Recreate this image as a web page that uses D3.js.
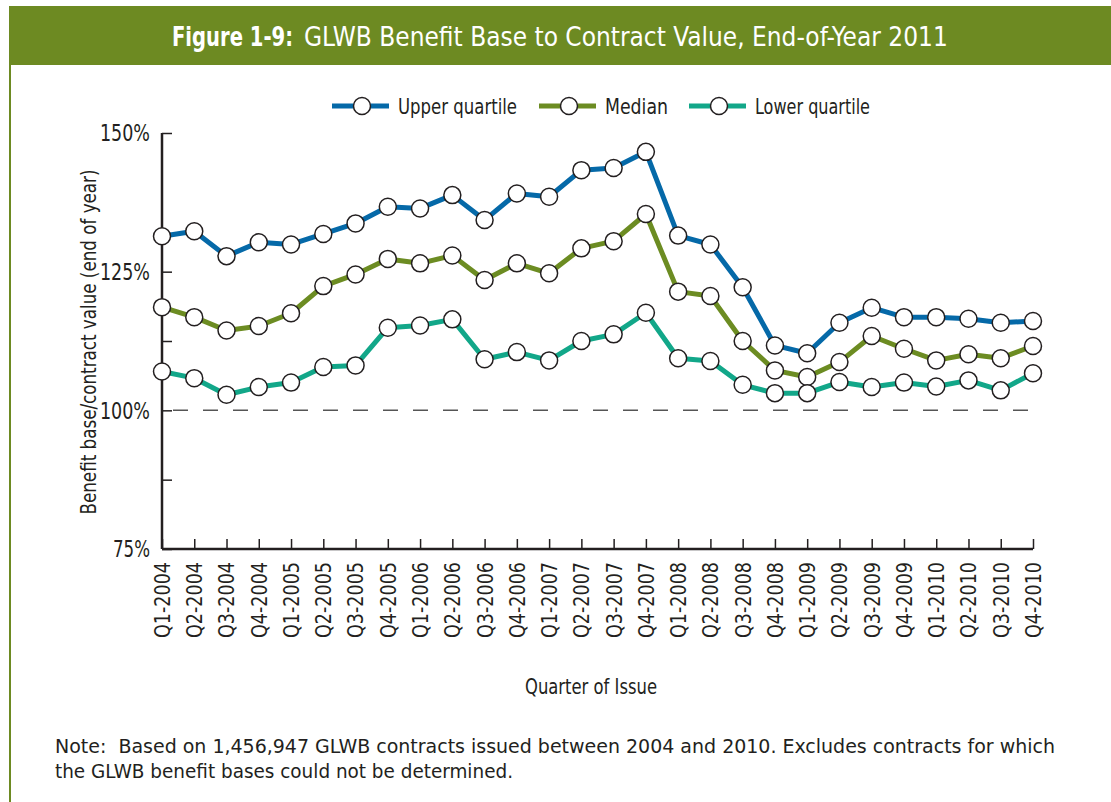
<!DOCTYPE html>
<html>
<head>
<meta charset="utf-8">
<script src="https://cdn.jsdelivr.net/npm/d3@7"></script>
<style>
  body { margin: 0; background: #fff; }
  svg text { font-family: "DejaVu Sans Condensed", "Liberation Sans Narrow", sans-serif; fill: #231f20; }
</style>
</head>
<body>
<div id="chart"></div>
<script>
const quarters = ['Q1-2004','Q2-2004','Q3-2004','Q4-2004','Q1-2005','Q2-2005','Q3-2005','Q4-2005',
  'Q1-2006','Q2-2006','Q3-2006','Q4-2006','Q1-2007','Q2-2007','Q3-2007','Q4-2007',
  'Q1-2008','Q2-2008','Q3-2008','Q4-2008','Q1-2009','Q2-2009','Q3-2009','Q4-2009',
  'Q1-2010','Q2-2010','Q3-2010','Q4-2010'];
const upperQuartile = [131.4,132.3,127.8,130.3,129.9,131.8,133.7,136.7,136.4,138.8,134.3,139.1,138.5,
  143.3,143.7,146.6,131.5,129.9,122.2,111.7,110.3,115.8,118.5,116.8,116.8,116.5,115.8,116.1];
const median = [118.6,116.8,114.4,115.2,117.5,122.4,124.5,127.3,126.5,127.9,123.5,126.5,124.7,
  129.2,130.5,135.4,121.4,120.6,112.5,107.2,106.0,108.7,113.4,111.1,109.0,110.1,109.4,111.6];
const lowerQuartile = [107.0,105.8,102.8,104.2,105.0,107.8,108.1,114.9,115.3,116.4,109.2,110.5,109.0,
  112.5,113.7,117.6,109.4,108.9,104.6,103.1,103.1,105.1,104.2,105.0,104.3,105.4,103.6,106.7];
const seriesNames = ['Upper quartile','Median','Lower quartile'];
const seriesColors = ['#0569a8','#6c8c22','#12a789'];
const yTicks = [75,100,125,150];
const yMinorTicks = [87.5,112.5];

const W = 1111, H = 802;
const svg = d3.select('#chart').append('svg').attr('width', W).attr('height', H);

// squeeze text to the narrow widths of the original condensed face
function fit(sel, len) {
  return sel.attr('textLength', len).attr('lengthAdjust', 'spacingAndGlyphs');
}
// same idea, but by scaling the whole element so its box really shrinks
function squeeze(sel, x0, y0, len) {
  const natural = sel.node().getComputedTextLength();
  sel.attr('transform', `translate(${x0},${y0}) scale(${len / natural},1)`);
}

// frame + title bar
const green = '#6d8a22';
svg.append('line').attr('x1',10).attr('x2',10).attr('y1',60).attr('y2',H)
  .attr('stroke', green).attr('stroke-width', 2);
svg.append('rect').attr('x',9).attr('y',6).attr('width',W-9).attr('height',59).attr('fill',green);
svg.append('text').style('font-size','27px').attr('font-weight','bold')
  .style('fill','#fff').text('Figure 1-9:').call(squeeze, 172, 46, 121);
svg.append('text').style('font-size','27px')
  .style('fill','#fff').text('GLWB Benefit Base to Contract Value, End-of-Year 2011')
  .call(squeeze, 304, 46, 644);

const x = d3.scalePoint().domain(quarters).range([162, 1033]);
const y = d3.scaleLinear().domain([75,150]).range([549, 133]);

// 100% reference line
svg.append('line').attr('x1',173).attr('x2',1033).attr('y1',y(100)).attr('y2',y(100))
  .attr('stroke','#555').attr('stroke-width',1.5).attr('stroke-dasharray','15,15');

// y axis
const yAxis = svg.append('g').attr('transform','translate(162,0)')
  .call(d3.axisRight(y).tickValues(yTicks.concat(yMinorTicks)).tickSize(10).tickFormat(''));
yAxis.select('.domain').attr('stroke','#231f20').attr('stroke-width',2.5).attr('d','M0,133V549');
yAxis.selectAll('.tick line').attr('stroke','#231f20').attr('stroke-width',1.5);
svg.selectAll('.ylab').data(yTicks).join('text').attr('class','ylab')
  .attr('x',150).attr('y',d => y(d)).attr('dy','0.36em').attr('text-anchor','end')
  .style('font-size','23px').attr('textLength', d => d < 100 ? 37 : 50)
  .attr('lengthAdjust','spacingAndGlyphs').text(d => d + '%');

// x axis
const xAxis = svg.append('g').attr('transform','translate(0,549)')
  .call(d3.axisTop(x).tickSize(10).tickFormat(''));
xAxis.select('.domain').attr('stroke','#231f20').attr('stroke-width',2.5).attr('d','M162,0H1033');
xAxis.selectAll('.tick line').attr('stroke','#231f20').attr('stroke-width',1.5);
svg.selectAll('.xlab').data(quarters).join('text').attr('class','xlab')
  .attr('transform', d => `translate(${x(d)},562) rotate(-90)`)
  .attr('dy','0.36em').attr('text-anchor','end').style('font-size','22px')
  .call(fit, 76).text(d => d);

// axis titles
svg.append('text').attr('transform','translate(88,342) rotate(-90)').attr('text-anchor','middle')
  .attr('dy','0.36em').style('font-size','21px').call(fit, 345)
  .text('Benefit base/contract value (end of year)');
svg.append('text').attr('x',591).attr('y',694).attr('text-anchor','middle')
  .style('font-size','21px').call(fit, 132).text('Quarter of Issue');

// series
const series = [upperQuartile, median, lowerQuartile];
const line = d3.line().x((d,i) => x(quarters[i])).y(d => y(d));
series.forEach((vals, k) => {
  svg.append('path').datum(vals).attr('fill','none').attr('stroke',seriesColors[k])
    .attr('stroke-width',5).attr('stroke-linejoin','round').attr('d', line);
});
series.forEach((vals, k) => {
  svg.append('g').selectAll('circle').data(vals).join('circle')
    .attr('cx',(d,i) => x(quarters[i])).attr('cy', d => y(d)).attr('r',8.5)
    .attr('fill','#fff').attr('stroke','#231f20').attr('stroke-width',1.5);
});

// legend
const legendX = [332, 539, 689];
const legendW = [119, 63, 115];
const legend = svg.append('g');
seriesNames.forEach((name, k) => {
  const g = legend.append('g').attr('transform',`translate(${legendX[k]},106)`);
  g.append('line').attr('x1',0).attr('x2',57).attr('stroke',seriesColors[k]).attr('stroke-width',5);
  g.append('circle').attr('cx',30).attr('r',8.5).attr('fill','#fff')
    .attr('stroke','#231f20').attr('stroke-width',1.5);
  g.append('text').attr('x',66).attr('dy','0.36em').style('font-size','22px')
    .call(fit, legendW[k]).text(name);
});

// note
const note = svg.append('text').attr('x',55).attr('y',753).style('font-size','19px')
  .style('white-space','pre');
note.append('tspan').attr('x',55).call(fit, 1000)
  .text('Note:  Based on 1,456,947 GLWB contracts issued between 2004 and 2010. Excludes contracts for which');
note.append('tspan').attr('x',55).attr('dy',25).call(fit, 458)
  .text('the GLWB benefit bases could not be determined.');
</script>
</body>
</html>
